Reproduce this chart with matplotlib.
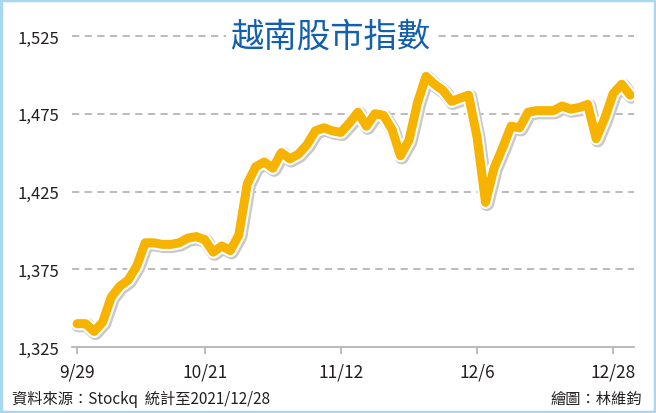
import matplotlib.pyplot as plt
import matplotlib.patheffects as pe
from matplotlib.patches import Rectangle

plt.rcParams['font.family'] = ['Noto Sans CJK TC', 'DejaVu Sans']

# daily closes, trading-day index 0 = 9/29
index_values = [
    1340, 1340, 1335, 1341, 1357, 1364, 1368, 1377, 1392, 1392,
    1391, 1391, 1392, 1395, 1396, 1394, 1386, 1390, 1387, 1397,
    1430, 1441, 1444, 1440, 1450, 1446, 1449, 1455, 1464, 1466,
    1464, 1463, 1469, 1476, 1467, 1475, 1474, 1465, 1448, 1458,
    1482, 1499, 1494, 1490, 1483, 1485, 1487, 1460, 1418, 1440,
    1453, 1467, 1466, 1476, 1477, 1477, 1477, 1480, 1478, 1479,
    1481, 1459, 1472, 1488, 1494, 1487,
]
tick_pos = [0, 15, 31, 47, 63]
tick_labels = ["9/29", "10/21", "11/12", "12/6", "12/28"]
y_ticks = [1325, 1375, 1425, 1475, 1525]

fig = plt.figure(figsize=(6.56, 4.14), dpi=100)
ax = fig.add_axes([0.1098, 0.1594, 0.8567, 0.7512])

x = list(range(len(index_values)))
ax.plot(x, index_values, color="#f6b300", lw=6.5, solid_capstyle="round",
        solid_joinstyle="round", zorder=3,
        path_effects=[pe.Stroke(linewidth=10.5, foreground="#c9c9c9", offset=(1, -1)),
                      pe.Stroke(linewidth=9.5, foreground="white"),
                      pe.Normal()])

ax.set_xlim(-0.6, 65.45)
ax.set_ylim(1325, 1525)
ax.set_yticks(y_ticks)
ax.set_yticklabels([f"{v:,}" for v in y_ticks])
ax.set_xticks(tick_pos)
ax.set_xticklabels(tick_labels)

for v in y_ticks[1:]:
    ax.axhline(v, color="#b5b5b5", lw=1.3, ls=(0, (4, 3)), zorder=1, clip_on=False)

for s in ["top", "right", "left"]:
    ax.spines[s].set_visible(False)
ax.spines["bottom"].set_color("#b5b5b5")
ax.spines["bottom"].set_linewidth(1.3)
ax.tick_params(axis="y", length=0, pad=9, labelsize=12, colors="#231f20")
ax.tick_params(axis="x", length=5, width=1.3, color="#b5b5b5", pad=6,
               labelsize=12.5, labelcolor="#231f20")

fig.text(0.503, 0.91, "越南股市指數", color="#1260ad", fontsize=24,
         fontweight="medium", ha="center", va="center",
         bbox=dict(facecolor="white", edgecolor="none", pad=3))

fig.text(0.018, 0.035, "資料來源：Stockq  統計至2021/12/28", fontsize=11,
         color="#231f20", ha="left", va="center")
fig.text(0.979, 0.035, "繪圖：林維鈞", fontsize=11,
         color="#231f20", ha="right", va="center")

fig.patches.append(Rectangle((0.002, 0.003), 0.996, 0.994, transform=fig.transFigure,
                             fill=False, edgecolor="#a8d8f0", lw=2.5))

fig.savefig("out.png", dpi=100)
plt.close(fig)
